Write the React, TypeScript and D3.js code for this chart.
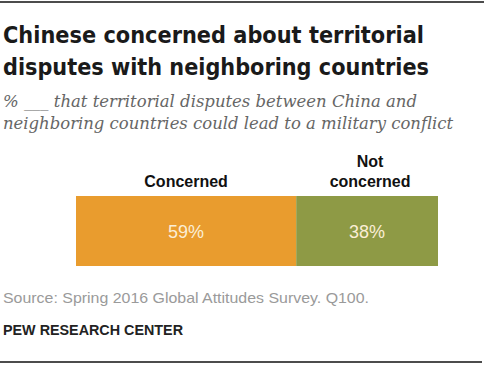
import React from "react";
import * as d3 from "d3";

const categories = ["Concerned", "Not concerned"];
const values = [59, 38];
const labelLines = [["Concerned"], ["Not", "concerned"]];
const colors = ["#E99C2E", "#8E9A45"];
const titleLines = ["Chinese concerned about territorial", "disputes with neighboring countries"];
const subtitleLines = [
  "% ___ that territorial disputes between China and",
  "neighboring countries could lead to a military conflict",
];
const source = "Source: Spring 2016 Global Attitudes Survey. Q100.";
const credit = "PEW RESEARCH CENTER";

export default function App() {
  const W = 486, H = 366;
  const total = d3.sum(values);
  const x = d3.scaleLinear().domain([0, total]).range([76, 438]);
  const starts = d3.cumsum([0, ...values]).slice(0, values.length);
  const barTop = 196, barH = 70;
  return (
    <svg width={W} height={H} style={{ position: "absolute", left: 0, top: 0, background: "#fff" }}
      fontFamily="'Liberation Sans', Arial, sans-serif">
      <rect width={W} height={H} fill="#fff" />
      <line x1={0} x2={484} y1={2} y2={2} stroke="#111" strokeWidth={1.5} />
      <line x1={0} x2={482} y1={362} y2={362} stroke="#111" strokeWidth={1.5} />
      {titleLines.map((t, i) => (
        <text key={t} x={3} y={43 + i * 32} fontSize={23.5} fontWeight="bold" fill="#1a1a1a"
          fontFamily="'DejaVu Sans', sans-serif" textLength={i === 0 ? 421 : 426} lengthAdjust="spacingAndGlyphs">{t}</text>
      ))}
      {subtitleLines.map((t, i) => (
        <text key={t} x={3} y={107 + i * 22} fontSize={16} fontStyle="italic" fill="#666"
          fontFamily="'DejaVu Serif', Georgia, serif" textLength={i === 0 ? 414 : 450} lengthAdjust="spacingAndGlyphs">{t}</text>
      ))}
      {categories.map((c, i) => {
        const x0 = x(starts[i]);
        const x1 = x(starts[i] + values[i]);
        const cx = (x0 + x1) / 2 + (i === 1 ? 3 : 0);
        const lines = labelLines[i];
        return (
          <g key={c}>
            {lines.map((l, j) => (
              <text key={l} x={cx} y={187 - (lines.length - 1 - j) * 20} textAnchor="middle"
                fontSize={16} fontWeight="bold" fill="#111">{l}</text>
            ))}
            <rect x={x0} y={barTop} width={x1 - x0} height={barH} fill={colors[i]} />
            <text x={(x0 + x1) / 2} y={238} textAnchor="middle" fontSize={18} fill="#fbeed5">{values[i]}%</text>
          </g>
        );
      })}
      <text x={3} y={303} fontSize={15} fill="#9a9a9a" textLength={366} lengthAdjust="spacingAndGlyphs">{source}</text>
      <text x={3} y={335} fontSize={14} fontWeight="bold" fill="#222" textLength={180} lengthAdjust="spacingAndGlyphs">{credit}</text>
    </svg>
  );
}
